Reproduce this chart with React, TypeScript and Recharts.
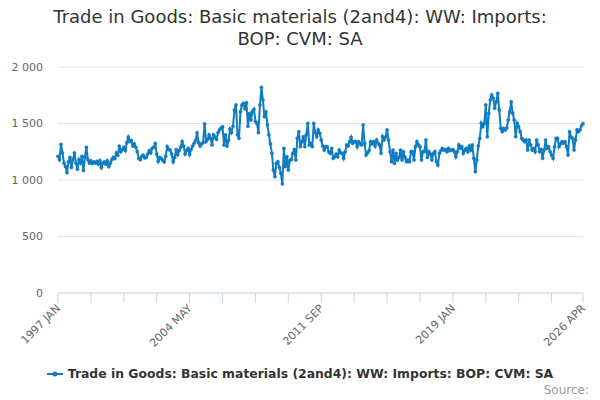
import React from "react";
import { LineChart, Line, XAxis, YAxis, CartesianGrid } from "recharts";

// monthly values, 1997 JAN .. 2026 APR (£ million, CVM, SA)
const y1997 = [1210, 1180, 1315, 1240, 1150, 1120, 1065, 1160, 1200, 1110, 1180, 1240];
const y1998 = [1150, 1095, 1180, 1150, 1210, 1085, 1200, 1290, 1180, 1150, 1170, 1145];
const y1999 = [1160, 1150, 1165, 1140, 1170, 1110, 1150, 1160, 1140, 1170, 1120, 1150];
const y2000 = [1180, 1200, 1190, 1240, 1220, 1300, 1250, 1270, 1290, 1260, 1330, 1380];
const y2001 = [1340, 1350, 1300, 1320, 1290, 1250, 1190, 1180, 1210, 1220, 1195, 1200];
const y2002 = [1230, 1260, 1240, 1280, 1290, 1325, 1230, 1165, 1200, 1190, 1175, 1160];
const y2003 = [1210, 1295, 1270, 1265, 1230, 1162, 1200, 1270, 1225, 1260, 1290, 1340];
const y2004 = [1300, 1230, 1260, 1280, 1225, 1270, 1300, 1325, 1350, 1419, 1330, 1300];
const y2005 = [1320, 1330, 1496, 1340, 1360, 1400, 1370, 1310, 1400, 1380, 1360, 1420];
const y2006 = [1443, 1460, 1470, 1310, 1400, 1300, 1350, 1450, 1420, 1475, 1620, 1664];
const y2007 = [1400, 1369, 1605, 1664, 1679, 1630, 1684, 1475, 1590, 1531, 1605, 1626];
const y2008 = [1520, 1502, 1419, 1664, 1820, 1708, 1560, 1605, 1487, 1400, 1320, 1236];
const y2009 = [1088, 1029, 1148, 1162, 1112, 1059, 965, 1280, 1118, 1206, 1088, 1177];
const y2010 = [1180, 1236, 1271, 1177, 1369, 1428, 1295, 1339, 1383, 1295, 1400, 1501];
const y2011 = [1310, 1325, 1295, 1501, 1420, 1383, 1443, 1413, 1354, 1300, 1265, 1295];
const y2012 = [1295, 1250, 1236, 1280, 1192, 1206, 1230, 1206, 1265, 1240, 1236, 1192];
const y2013 = [1250, 1310, 1300, 1339, 1378, 1325, 1340, 1339, 1295, 1339, 1320, 1310];
const y2014 = [1487, 1325, 1221, 1240, 1260, 1339, 1320, 1339, 1300, 1354, 1325, 1310];
const y2015 = [1236, 1383, 1354, 1380, 1443, 1354, 1251, 1162, 1265, 1148, 1236, 1177];
const y2016 = [1200, 1265, 1177, 1251, 1200, 1162, 1177, 1162, 1251, 1251, 1177, 1295];
const y2017 = [1339, 1310, 1295, 1177, 1251, 1250, 1354, 1200, 1251, 1230, 1177, 1236];
const y2018 = [1251, 1162, 1133, 1236, 1260, 1280, 1265, 1270, 1250, 1280, 1260, 1265];
const y2019 = [1270, 1251, 1206, 1250, 1310, 1280, 1295, 1236, 1265, 1280, 1250, 1300];
const y2020 = [1265, 1310, 1192, 1074, 1177, 1300, 1369, 1502, 1472, 1500, 1664, 1383];
const y2021 = [1590, 1708, 1752, 1723, 1634, 1693, 1767, 1620, 1457, 1428, 1457, 1443];
const y2022 = [1460, 1531, 1605, 1693, 1590, 1531, 1383, 1502, 1472, 1428, 1369, 1354];
const y2023 = [1339, 1354, 1265, 1354, 1310, 1265, 1280, 1251, 1354, 1310, 1251, 1270];
const y2024 = [1192, 1265, 1354, 1280, 1295, 1251, 1220, 1192, 1295, 1369, 1369, 1295];
const y2025 = [1320, 1339, 1325, 1339, 1295, 1221, 1428, 1380, 1369, 1265, 1354, 1443];
const y2026 = [1428, 1443, 1480, 1500];

const values = [
  ...y1997, ...y1998, ...y1999, ...y2000, ...y2001, ...y2002, ...y2003, ...y2004,
  ...y2005, ...y2006, ...y2007, ...y2008, ...y2009, ...y2010, ...y2011, ...y2012,
  ...y2013, ...y2014, ...y2015, ...y2016, ...y2017, ...y2018, ...y2019, ...y2020,
  ...y2021, ...y2022, ...y2023, ...y2024, ...y2025, ...y2026,
];

const MONTHS = ["JAN", "FEB", "MAR", "APR", "MAY", "JUN", "JUL", "AUG", "SEP", "OCT", "NOV", "DEC"];
const START_YEAR = 1997;

const xTicks = [0, 22, 44, 66, 88, 110, 132, 154, 176, 198, 220, 242, 264, 286, 308, 330, 351];
const labelledTicks = [0, 88, 176, 264, 351];
const yTicks = [0, 500, 1000, 1500, 2000];

const TITLE = "Trade in Goods: Basic materials (2and4): WW: Imports: BOP: CVM: SA";
const LINE_COLOR = "#0f7cc2";
const FONT = "'DejaVu Sans', sans-serif";

const data = values.map((v, i) => ({
  idx: i,
  month: `${START_YEAR + Math.floor(i / 12)} ${MONTHS[i % 12]}`,
  value: v,
}));

const XTick = (props: any) => {
  const { x, y, payload } = props;
  if (!labelledTicks.includes(payload.value)) return null;
  const label = data[payload.value].month;
  const tx = x + 3;
  const ty = y + 6;
  return (
    <text
      x={tx}
      y={ty}
      textAnchor="end"
      fontSize={11}
      fill="#666"
      fontFamily={FONT}
      transform={`rotate(-45, ${tx}, ${ty})`}
    >
      {label}
    </text>
  );
};

export default function App() {
  return (
    <div style={{ position: "absolute", left: 0, top: 0, width: 600, height: 400, background: "#fff", fontFamily: FONT }}>
      <div
        style={{
          position: "absolute",
          top: 6,
          left: 0,
          width: 600,
          textAlign: "center",
          fontSize: 18,
          lineHeight: "22px",
          color: "#333",
        }}
      >
        Trade in Goods: Basic materials (2and4): WW: Imports:
        <br />
        BOP: CVM: SA
      </div>
      <LineChart
        width={600}
        height={400}
        data={data}
        margin={{ top: 67, right: 17, bottom: 47, left: 1 }}
      >
        <CartesianGrid horizontal vertical={false} stroke="#e6e6e6" />
        <XAxis
          dataKey="idx"
          type="number"
          domain={[0, 351]}
          ticks={xTicks}
          interval={0}
          height={60}
          tickSize={10}
          tickMargin={0}
          stroke="#ccd6eb"
          tick={<XTick />}
        />
        <YAxis
          type="number"
          domain={[0, 2000]}
          ticks={yTicks}
          width={57}
          axisLine={false}
          tickLine={false}
          tickSize={0}
          tickMargin={15}
          tick={{ fontSize: 11, fill: "#666", fontFamily: FONT }}
          tickFormatter={(v: number) => v.toLocaleString("en-US").replace(",", " ")}
        />
        <Line
          type="linear"
          dataKey="value"
          stroke={LINE_COLOR}
          strokeWidth={2}
          dot={{ r: 1.6, fill: LINE_COLOR, stroke: LINE_COLOR, strokeWidth: 0.5 }}
          isAnimationActive={false}
        />
      </LineChart>
      <div
        style={{
          position: "absolute",
          top: 366,
          left: 0,
          width: 600,
          display: "flex",
          justifyContent: "center",
          alignItems: "center",
          fontSize: 12.4,
          fontWeight: "bold",
          color: "#333",
        }}
      >
        <svg width={16} height={10} style={{ marginRight: 5 }}>
          <line x1={0} y1={5} x2={16} y2={5} stroke={LINE_COLOR} strokeWidth={2} />
          <circle cx={8} cy={5} r={2.5} fill={LINE_COLOR} />
        </svg>
        {TITLE}
      </div>
      <div style={{ position: "absolute", top: 383, right: 11, fontSize: 12, color: "#999" }}>Source:</div>
    </div>
  );
}
